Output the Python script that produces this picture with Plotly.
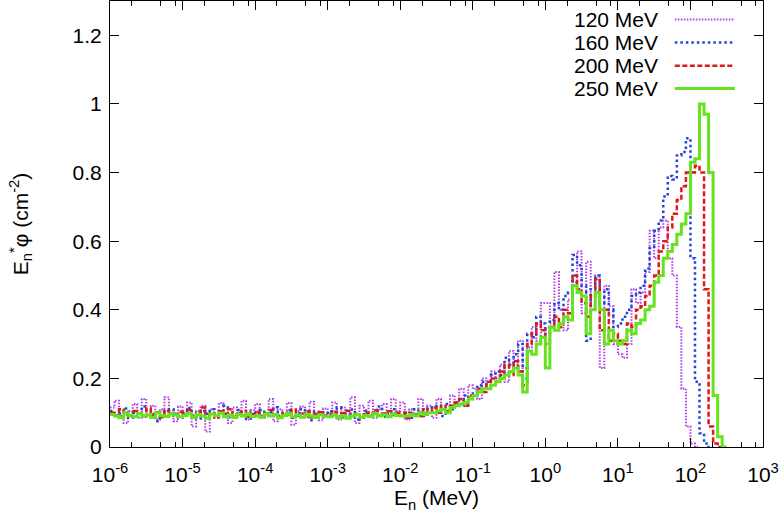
import numpy as np
import plotly.graph_objects as go

# Histogram bin grid: 16 log bins per decade from 1e-6 MeV
BINS_PER_DECADE = 16
edges = 10 ** (np.arange(9 * BINS_PER_DECADE + 1) / BINS_PER_DECADE - 6)

labels = ["120 MeV", "160 MeV", "200 MeV", "250 MeV"]

# values per bin (E_n * phi)
v120 = [
    0.115, 0.135, 0.09, 0.07, 0.105, 0.125, 0.085, 0.14, 0.095, 0.12, 0.08, 0.11, 0.145, 0.1, 0.075, 0.118,
    0.09, 0.13, 0.06, 0.105, 0.12, 0.045, 0.11, 0.085, 0.128, 0.095, 0.07, 0.115, 0.1, 0.135, 0.08, 0.108,
    0.125, 0.085, 0.098, 0.14, 0.075, 0.11, 0.092, 0.128, 0.065, 0.105, 0.118, 0.088, 0.132, 0.095, 0.078, 0.112,
    0.1, 0.13, 0.08, 0.115, 0.092, 0.145, 0.07, 0.12, 0.098, 0.135, 0.085, 0.11, 0.125, 0.09, 0.14, 0.105,
    0.13, 0.08, 0.11, 0.095, 0.14, 0.10, 0.12, 0.085, 0.14, 0.11, 0.10, 0.15, 0.12, 0.17, 0.13, 0.18,
    0.17, 0.14, 0.20, 0.17, 0.22, 0.20, 0.24, 0.19, 0.28, 0.24, 0.31, 0.23, 0.29, 0.35, 0.31, 0.42,
    0.42, 0.36, 0.51, 0.40, 0.34, 0.43, 0.48, 0.57, 0.39, 0.54, 0.40, 0.50, 0.23, 0.47, 0.41, 0.30,
    0.27, 0.26, 0.30, 0.46, 0.42, 0.45, 0.51, 0.63, 0.55, 0.64, 0.66, 0.55, 0.50, 0.35, 0.17, 0.06,
    0.01, 0.0,
]
v160 = [
    0.105, 0.09, 0.098, 0.112, 0.085, 0.1, 0.093, 0.118, 0.088, 0.096, 0.075, 0.104, 0.09, 0.11, 0.097, 0.086,
    0.1, 0.114, 0.092, 0.083, 0.105, 0.097, 0.11, 0.09, 0.099, 0.12, 0.087, 0.095, 0.108, 0.091, 0.082, 0.102,
    0.096, 0.108, 0.088, 0.101, 0.116, 0.09, 0.094, 0.107, 0.085, 0.099, 0.111, 0.093, 0.078, 0.103, 0.097, 0.089,
    0.104, 0.092, 0.115, 0.087, 0.098, 0.109, 0.08, 0.095, 0.106, 0.091, 0.1, 0.118, 0.088, 0.097, 0.11, 0.093,
    0.09, 0.10, 0.085, 0.11, 0.10, 0.09, 0.115, 0.10, 0.12, 0.09, 0.125, 0.11, 0.13, 0.12, 0.15, 0.14,
    0.16, 0.18, 0.19, 0.18, 0.21, 0.22, 0.21, 0.26, 0.24, 0.27, 0.30, 0.20, 0.33, 0.32, 0.38, 0.36,
    0.33, 0.37, 0.42, 0.40, 0.44, 0.45, 0.56, 0.53, 0.47, 0.31, 0.46, 0.50, 0.42, 0.46, 0.40, 0.35,
    0.36, 0.38, 0.40, 0.44, 0.45, 0.47, 0.52, 0.58, 0.63, 0.66, 0.73, 0.79, 0.78, 0.85, 0.86, 0.90,
    0.55, 0.19, 0.04, 0.01, 0.0,
]
v200 = [
    0.10, 0.092, 0.11, 0.095, 0.088, 0.105, 0.098, 0.09, 0.112, 0.093, 0.101, 0.087, 0.106, 0.096, 0.09, 0.103,
    0.094, 0.108, 0.089, 0.1, 0.115, 0.092, 0.098, 0.086, 0.104, 0.097, 0.11, 0.09, 0.099, 0.105, 0.088, 0.096,
    0.102, 0.09, 0.097, 0.108, 0.093, 0.086, 0.1, 0.095, 0.109, 0.091, 0.098, 0.104, 0.087, 0.096, 0.101, 0.092,
    0.095, 0.103, 0.088, 0.099, 0.106, 0.09, 0.097, 0.085, 0.1, 0.094, 0.107, 0.091, 0.098, 0.104, 0.093, 0.1,
    0.10, 0.085, 0.10, 0.095, 0.09, 0.11, 0.10, 0.115, 0.10, 0.12, 0.105, 0.12, 0.13, 0.14, 0.12, 0.15,
    0.15, 0.17, 0.16, 0.19, 0.20, 0.19, 0.22, 0.24, 0.21, 0.25, 0.22, 0.18, 0.30, 0.33, 0.36, 0.34,
    0.30, 0.35, 0.38, 0.35, 0.40, 0.39, 0.50, 0.46, 0.42, 0.38, 0.44, 0.49, 0.34, 0.40, 0.31, 0.33,
    0.31, 0.30, 0.36, 0.35, 0.40, 0.41, 0.44, 0.47, 0.50, 0.57, 0.60, 0.64, 0.68, 0.72, 0.76, 0.80,
    0.80, 0.82, 0.80, 0.46, 0.06, 0.01, 0.0,
]
v250 = [
    0.095, 0.09, 0.085, 0.10, 0.092, 0.088, 0.098, 0.09, 0.094, 0.086, 0.10, 0.091, 0.089, 0.097, 0.093, 0.088,
    0.092, 0.098, 0.087, 0.095, 0.09, 0.084, 0.096, 0.091, 0.099, 0.088, 0.093, 0.086, 0.095, 0.09, 0.097, 0.089,
    0.091, 0.087, 0.096, 0.09, 0.094, 0.085, 0.092, 0.098, 0.088, 0.093, 0.087, 0.095, 0.09, 0.086, 0.094, 0.089,
    0.088, 0.093, 0.086, 0.091, 0.084, 0.09, 0.095, 0.087, 0.092, 0.089, 0.097, 0.09, 0.094, 0.088, 0.096, 0.092,
    0.09, 0.09, 0.095, 0.09, 0.10, 0.095, 0.10, 0.10, 0.105, 0.11, 0.10, 0.115, 0.12, 0.125, 0.13, 0.14,
    0.15, 0.16, 0.17, 0.17, 0.18, 0.19, 0.20, 0.21, 0.22, 0.23, 0.21, 0.16, 0.28, 0.27, 0.30, 0.32,
    0.23, 0.35, 0.34, 0.36, 0.38, 0.37, 0.47, 0.45, 0.44, 0.33, 0.40, 0.45, 0.40, 0.30, 0.34, 0.31,
    0.30, 0.31, 0.34, 0.33, 0.36, 0.37, 0.40, 0.41, 0.48, 0.50, 0.55, 0.57, 0.59, 0.62, 0.65, 0.68,
    0.83, 0.84, 1.0, 0.97, 0.80, 0.15, 0.03, 0.0,
]

series = [v120, v160, v200, v250]
colors = ["#b03ce8", "#2244d8", "#e01818", "#66e21e"]
widths = [2.0, 2.5, 2.5, 3.0]
dashes = ["1.5px,1.5px", "2.5px,3px", "5px,2.5px", "solid"]

fig = go.Figure()
for name, vals, c, w, d in zip(labels, series, colors, widths, dashes):
    n = len(vals)
    x = list(edges[: n + 1])
    y = list(vals) + [vals[-1]]
    fig.add_trace(go.Scatter(x=x, y=y, mode="lines", name=name, line_shape="hv",
                             line=dict(color=c, width=w, dash=d), showlegend=False))

FS = 21
# gnuplot-style legend: text then sample line
row_y = [0.9585, 0.907, 0.855, 0.804]
for name, c, w, d, ry in zip(labels, colors, widths, dashes, row_y):
    fig.add_annotation(x=0.843, y=ry, xref="paper", yref="paper", text=name, showarrow=False,
                       xanchor="right", yanchor="middle", font=dict(size=FS, color="black"))
    fig.add_shape(type="line", xref="paper", yref="paper", x0=0.865, x1=0.957, y0=ry, y1=ry,
                  line=dict(color=c, width=w, dash=d))

decades = list(range(-6, 4))
xtickvals = [10.0 ** k for k in decades]
xticktext = ["10<sup>%d</sup>" % k for k in decades]
minor_vals = [m * 10.0 ** k for k in range(-6, 3) for m in (2, 5, 8)]

fig.update_xaxes(type="log", range=[-6, 3], tickvals=xtickvals, ticktext=xticktext, automargin=False,
                 ticks="inside", ticklen=9, tickcolor="black", showline=True, linecolor="black",
                 linewidth=1, mirror="allticks", showgrid=False, zeroline=False,
                 minor=dict(tickvals=minor_vals, ticks="inside", ticklen=5, tickcolor="black", showgrid=False),
                 tickfont=dict(size=FS, color="black"), ticklabelstandoff=9,
                 title=dict(text="E<sub>n</sub> (MeV)", font=dict(size=FS, color="black"), standoff=2))
fig.update_yaxes(range=[0, 1.3], tickvals=[0, 0.2, 0.4, 0.6, 0.8, 1.0, 1.2], automargin=False,
                 ticktext=["0", "0.2", "0.4", "0.6", "0.8", "1", "1.2"],
                 ticks="inside", ticklen=9, tickcolor="black", showline=True, linecolor="black",
                 linewidth=1, mirror="allticks", showgrid=False, zeroline=False,
                 tickfont=dict(size=FS, color="black"), ticklabelstandoff=3,
                 title=dict(text="E<sub>n</sub><sup>*</sup>φ (cm<sup>-2</sup>)", font=dict(size=FS, color="black"),
                            standoff=38))

fig.update_layout(width=780, height=520, margin=dict(l=110, r=17, t=1, b=73),
                  plot_bgcolor="white", paper_bgcolor="white",
                  font=dict(family="Liberation Sans, Arial, sans-serif", color="black"))

fig.write_html("out.html", config={"displayModeBar": False},
               post_script="document.body.style.margin='0';document.body.style.overflow='hidden';")
